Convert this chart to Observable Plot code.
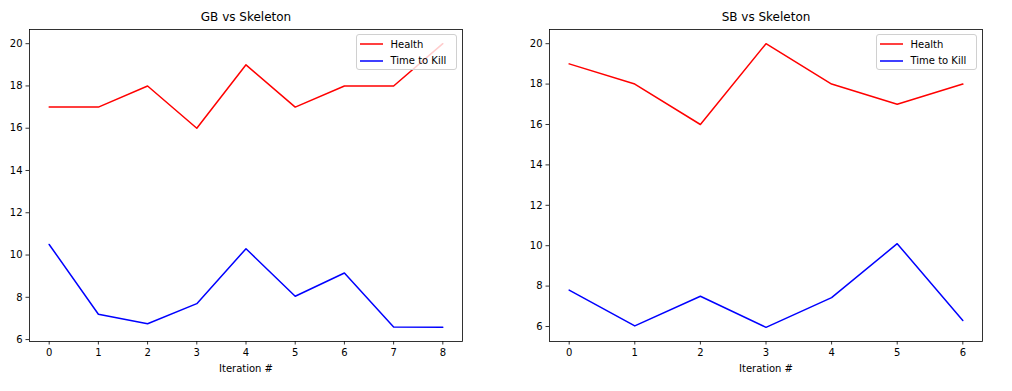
<!DOCTYPE html>
<html>
<head>
<meta charset="utf-8">
<script src="https://cdn.jsdelivr.net/npm/d3@7"></script>
<script src="https://cdn.jsdelivr.net/npm/@observablehq/plot@0.6"></script>
<style>
  html, body { margin: 0; padding: 0; background: #fff; }
  #wrap { position: relative; width: 1012px; height: 391px; background: #fff; font-family: "DejaVu Sans", sans-serif; }
  .panel { position: absolute; top: 0; }
  .legend { position: absolute; background: rgba(255,255,255,0.8); border: 1px solid #d0d0d0; border-radius: 3px; box-sizing: border-box; font-size: 10px; color: #000; }
  .legend .row { position: absolute; left: 0; height: 14px; display: flex; align-items: center; }
  .legend .row svg { margin-left: 3px; }
  .legend .row span { margin-left: 8px; white-space: nowrap; }
</style>
</head>
<body>
<div id="wrap"></div>
<script>
// ---- data ----
const titles = ["GB vs Skeleton", "SB vs Skeleton"];
const seriesNames = ["Health", "Time to Kill"];
const seriesColors = ["red", "blue"];
const xLabel = "Iteration #";
const yTicks = [6, 8, 10, 12, 14, 16, 18, 20];

const gbHealth = [17, 17, 18, 16, 19, 17, 18, 18, 20];
const gbTimeToKill = [10.5, 7.2, 6.75, 7.7, 10.3, 8.05, 9.15, 6.6, 6.58];
const sbHealth = [19, 18, 16, 20, 18, 17, 18];
const sbTimeToKill = [7.8, 6.03, 7.5, 5.96, 7.43, 10.1, 6.3];

const panels = [
  { title: titles[0], health: gbHealth, ttk: gbTimeToKill, left: 0, width: 500, mL: 29, mR: 38, legendLeft: 355.5 },
  { title: titles[1], health: sbHealth, ttk: sbTimeToKill, left: 500, width: 512, mL: 49, mR: 30, legendLeft: 875.5 }
];

const wrap = document.getElementById("wrap");
const H = 391, mT = 29, mB = 50;

function pad(lo, hi) { const m = (hi - lo) * 0.05; return [lo - m, hi + m]; }

for (const p of panels) {
  const n = p.health.length;
  const rows = [];
  p.health.forEach((v, i) => rows.push({ s: seriesNames[0], i, v }));
  p.ttk.forEach((v, i) => rows.push({ s: seriesNames[1], i, v }));
  const all = p.health.concat(p.ttk);
  const yDom = pad(d3.min(all), d3.max(all));
  const xDom = pad(0, n - 1);
  const xTicks = d3.range(n);

  const chart = Plot.plot({
    width: p.width, height: H,
    marginLeft: p.mL, marginRight: p.mR, marginTop: mT, marginBottom: mB,
    style: { fontFamily: "DejaVu Sans, sans-serif", fontSize: "10px", color: "#000", background: "transparent", overflow: "visible" },
    x: { domain: xDom, ticks: xTicks },
    y: { domain: yDom, ticks: yTicks },
    marks: [
      Plot.axisX({ ticks: xTicks, tickSize: 3.5, tickPadding: 3.5, label: null, tickFormat: d3.format("d"), fontSize: 10, strokeWidth: 0.8 }),
      Plot.axisY({ ticks: yTicks, tickSize: 3.5, tickPadding: 3.5, label: null, tickFormat: d3.format("d"), fontSize: 10, strokeWidth: 0.8 }),
      Plot.line(rows.filter(r => r.s === seriesNames[0]), { x: "i", y: "v", stroke: seriesColors[0], strokeWidth: 1.5 }),
      Plot.line(rows.filter(r => r.s === seriesNames[1]), { x: "i", y: "v", stroke: seriesColors[1], strokeWidth: 1.5 }),
      Plot.frame({ stroke: "#000", strokeWidth: 0.8 }),
      Plot.text([p.title], { text: d => d, frameAnchor: "top", lineAnchor: "middle", dy: -12, fontSize: 12, fill: "#000" }),
      Plot.text([xLabel], { text: d => d, frameAnchor: "bottom", lineAnchor: "middle", dy: 27, fontSize: 10, fill: "#000" })
    ]
  });
  chart.classList.add("panel");
  chart.style.left = p.left + "px";
  wrap.appendChild(chart);

  // legend overlay
  const lg = document.createElement("div");
  lg.className = "legend";
  lg.style.left = p.legendLeft + "px";
  lg.style.top = "34px";
  lg.style.width = "101px";
  lg.style.height = "36px";
  seriesNames.forEach((name, k) => {
    const row = document.createElement("div");
    row.className = "row";
    row.style.top = (k === 0 ? 2 : 18.5) + "px";
    row.innerHTML = `<svg width="23" height="4"><line x1="0" x2="23" y1="2" y2="2" stroke="${seriesColors[k]}" stroke-width="1.5"/></svg><span>${name}</span>`;
    lg.appendChild(row);
  });
  wrap.appendChild(lg);
}
</script>
</body>
</html>
